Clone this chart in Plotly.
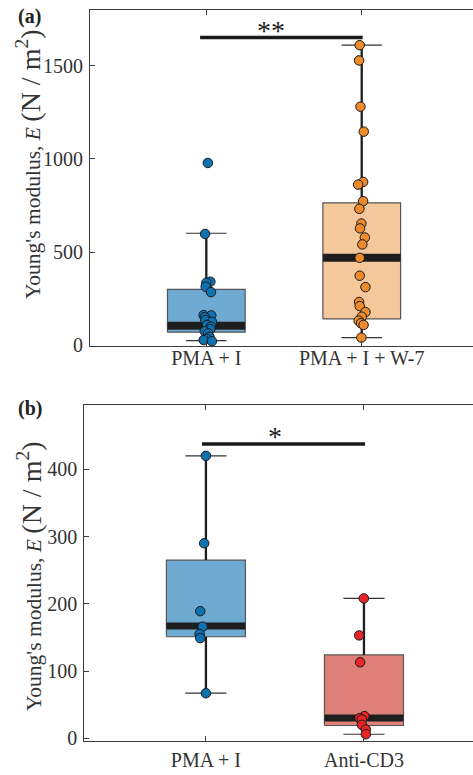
import plotly.graph_objects as go

# ---------------- data ----------------
cats_a = ["PMA + I", "PMA + I + W-7"]
cats_b = ["PMA + I", "Anti-CD3"]

# panel (a) points
a1_vals = [978, 597, 341, 335, 314, 285, 162, 160, 150, 135, 126, 109, 100, 86, 75, 64, 45, 35, 28, 22]
a1_jit = [0.01, -0.008, 0.026, 0.0, -0.004, 0.03, -0.017, 0.032, -0.01, -0.006, 0.036, 0.004, 0.03, 0.026, -0.01, 0.011, 0.02, 0.0, -0.017, 0.036]
a2_vals = [1610, 1528, 1280, 1146, 876, 862, 773, 732, 653, 627, 578, 541, 469, 373, 312, 232, 210, 178, 153, 132, 118, 109, 41]
a2_jit = [-0.013, -0.017, -0.008, 0.013, 0.009, -0.023, 0.009, -0.015, -0.002, -0.011, 0.02, 0.004, -0.013, -0.013, 0.024, -0.017, -0.013, 0.024, 0.0, -0.02, -0.005, 0.012, -0.002]
# panel (a) box stats: lower whisker, q1, median, q3, upper whisker
a1_box = [25, 70, 105, 300, 601]
a2_box = [41, 141, 469, 764, 1610]

# panel (b) points
b1_vals = [420, 290, 189, 166, 155, 149, 67]
b1_jit = [0.0, -0.011, -0.036, -0.021, -0.04, -0.036, 0.0]
b2_vals = [208, 153, 113, 33, 30, 28, 20, 13, 6]
b2_jit = [-0.001, -0.03, -0.024, 0.003, -0.028, -0.013, -0.013, 0.012, 0.012]
b1_box = [67, 151, 167, 265, 420]
b2_box = [6, 19, 30, 124, 208]

sig_a = ["**", 1651]
sig_b = ["*", 437.6]

yticks_a = [0, 500, 1000, 1500]
yticks_b = [0, 100, 200, 300, 400]

# ---------------- styles ----------------
BLUE = "#0f72b0"; BLUE_F = "#6faad2"
ORANGE = "#ec8a2c"; ORANGE_F = "#f5c89b"
RED = "#e8262a"; RED_F = "#e0807b"
FONT = "Liberation Serif, Times New Roman, serif"
AX = "#3c3c3c"
W = 473; H = 775

fig = go.Figure()


def add_group(xc, stats, vals, jit, pcol, fcol, xa, ya, medw):
    lo, q1, med, q3, hi = stats
    hw = 0.25
    cw = 0.13
    # box
    fig.add_trace(go.Scatter(x=[xc - hw, xc + hw, xc + hw, xc - hw, xc - hw],
                             y=[q1, q1, q3, q3, q1], mode="lines", fill="toself",
                             fillcolor=fcol, line=dict(color="#555555", width=1.2),
                             xaxis=xa, yaxis=ya, hoverinfo="skip", showlegend=False))
    # whiskers
    for y0, y1 in [(q3, hi), (lo, q1)]:
        fig.add_trace(go.Scatter(x=[xc, xc], y=[y0, y1], mode="lines",
                                 line=dict(color="#1e1e1e", width=2.3),
                                 xaxis=xa, yaxis=ya, hoverinfo="skip", showlegend=False))
    for yv in [lo, hi]:
        fig.add_trace(go.Scatter(x=[xc - cw, xc + cw], y=[yv, yv], mode="lines",
                                 line=dict(color="#333333", width=1.2),
                                 xaxis=xa, yaxis=ya, hoverinfo="skip", showlegend=False))
    # median
    fig.add_trace(go.Scatter(x=[xc - hw, xc + hw], y=[med, med], mode="lines",
                             line=dict(color="#1e1e1e", width=medw),
                             xaxis=xa, yaxis=ya, hoverinfo="skip", showlegend=False))
    # points
    fig.add_trace(go.Scatter(x=[xc + j for j in jit], y=vals, mode="markers",
                             marker=dict(color=pcol, size=9.5,
                                         line=dict(color="#1a1a1a", width=1)),
                             xaxis=xa, yaxis=ya, hoverinfo="skip", showlegend=False))


add_group(1, a1_box, a1_vals, a1_jit, BLUE, BLUE_F, "x", "y", 8)
add_group(2, a2_box, a2_vals, a2_jit, ORANGE, ORANGE_F, "x", "y", 8)
add_group(1, b1_box, b1_vals, b1_jit, BLUE, BLUE_F, "x2", "y2", 7)
add_group(2, b2_box, b2_vals, b2_jit, RED, RED_F, "x2", "y2", 7)

# significance bars
fig.add_trace(go.Scatter(x=[0.96, 2.006], y=[sig_a[1], sig_a[1]], mode="lines",
                         line=dict(color="#1a1a1a", width=3.5), xaxis="x", yaxis="y",
                         hoverinfo="skip", showlegend=False))
fig.add_trace(go.Scatter(x=[0.975, 2.007], y=[sig_b[1], sig_b[1]], mode="lines",
                         line=dict(color="#1a1a1a", width=3.5), xaxis="x2", yaxis="y2",
                         hoverinfo="skip", showlegend=False))

# domains (pixel based)
def px_x(p):
    return p / W

def px_y(p):
    return 1 - p / H

axis_common = dict(showline=True, linecolor=AX, linewidth=1.2, ticks="inside",
                   tickcolor=AX, ticklen=5, showgrid=False, zeroline=False,
                   automargin=False,
                   tickfont=dict(family=FONT, size=20, color="#333333"))

fig.update_layout(
    width=W, height=H, margin=dict(l=0, r=0, t=0, b=0, autoexpand=False),
    paper_bgcolor="white", plot_bgcolor="white",
    xaxis=dict(domain=[px_x(90), 1.0], range=[0.2516, 2.716], tickvals=[1, 2],
               ticktext=cats_a, mirror="ticks", anchor="y", ticklabelstandoff=-6,
               **axis_common),
    yaxis=dict(domain=[px_y(346), px_y(10.3)], range=[-4, 1797], tickvals=yticks_a,
               anchor="x", ticklabelstandoff=2, **axis_common),
    xaxis2=dict(domain=[px_x(84.3), 1.0], range=[0.2304, 2.69], tickvals=[1, 2],
                ticktext=cats_b, mirror="ticks", anchor="y2", ticklabelstandoff=1,
                **axis_common),
    yaxis2=dict(domain=[px_y(740.7), px_y(405)], range=[-3.6, 495.6], tickvals=yticks_b,
                anchor="x2", ticklabelstandoff=2, **axis_common),
)

ytitle = ("Young's modulus, <i>E</i> "
          "<span style='font-size:28px'>(N / m<sup>2</sup>)</span>")
annos = [
    dict(text=ytitle, x=px_x(28), y=px_y(164), xref="paper", yref="paper",
         textangle=-90, showarrow=False, xanchor="center", yanchor="middle",
         font=dict(family=FONT, size=21.5, color="#333333")),
    dict(text=ytitle, x=px_x(29), y=px_y(576), xref="paper", yref="paper",
         textangle=-90, showarrow=False, xanchor="center", yanchor="middle",
         font=dict(family=FONT, size=21.5, color="#333333")),
    dict(text="<b>(a)</b>", x=px_x(16), y=px_y(3), xref="paper", yref="paper",
         showarrow=False, xanchor="left", yanchor="top",
         font=dict(family=FONT, size=20, color="#222222")),
    dict(text="<b>(b)</b>", x=px_x(16), y=px_y(395), xref="paper", yref="paper",
         showarrow=False, xanchor="left", yanchor="top",
         font=dict(family=FONT, size=20, color="#222222")),
    dict(text=sig_a[0], x=1.414, y=sig_a[1], xref="x", yref="y", showarrow=False,
         xanchor="center", yanchor="bottom", yshift=-10,
         font=dict(family=FONT, size=28, color="#1a1a1a")),
    dict(text=sig_b[0], x=1.435, y=sig_b[1], xref="x2", yref="y2", showarrow=False,
         xanchor="center", yanchor="bottom", yshift=-10,
         font=dict(family=FONT, size=28, color="#1a1a1a")),
]
fig.update_layout(annotations=annos)

fig.write_html("out.html")
